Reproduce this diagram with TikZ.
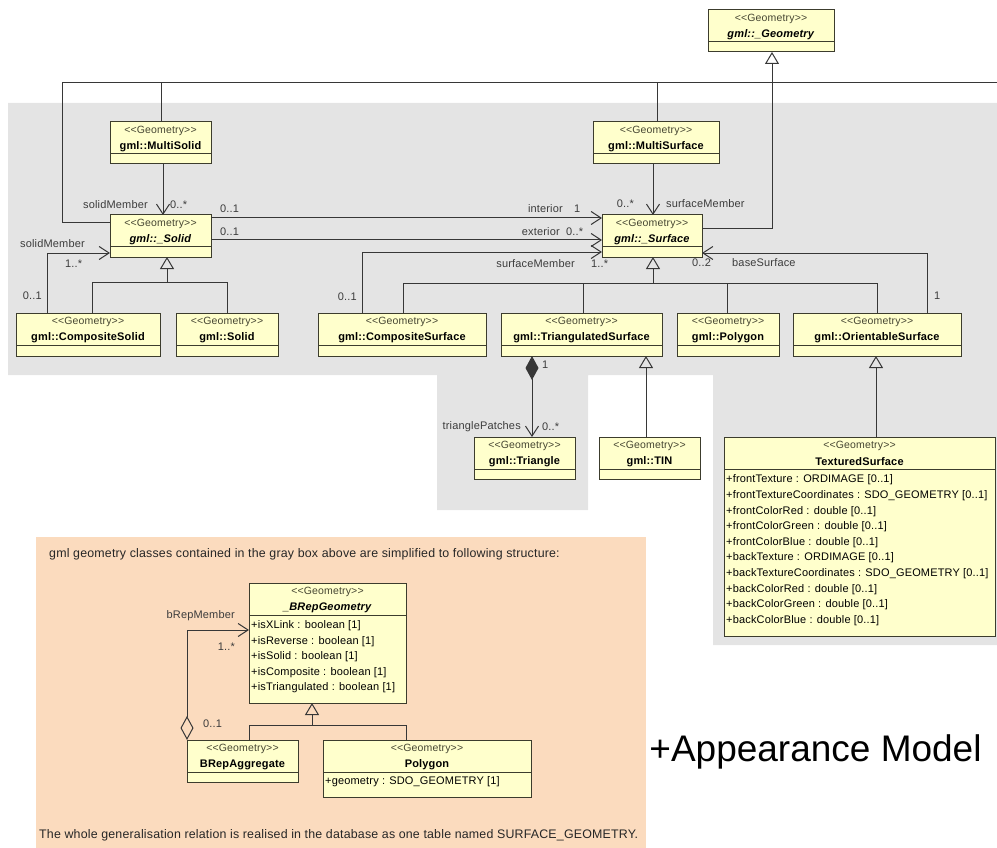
\documentclass[tikz,border=0pt]{standalone}
\usepackage{fontspec}
\setmainfont{Liberation Sans}
\newfontfamily\umlfont[LetterSpace=1.5]{Liberation Sans}
\usetikzlibrary{arrows.meta,fit}

\definecolor{graybg}{RGB}{228,228,228}
\definecolor{peachbg}{RGB}{251,219,190}
\definecolor{clsfill}{RGB}{255,255,204}
\definecolor{clsdraw}{RGB}{60,60,45}
\definecolor{lnk}{RGB}{55,55,55}
\definecolor{stereocol}{RGB}{70,70,50}
\definecolor{lblcol}{RGB}{60,60,60}

\tikzset{
  x=1pt, y=-1pt,
  clsbox/.style={draw=clsdraw, fill=clsfill, line width=1pt, inner sep=0pt, outer sep=0pt, rectangle},
  clssep/.style={draw=clsdraw, line width=1pt},
  stereo/.style={font=\umlfont\fontsize{10.5}{12}\selectfont, text=stereocol, inner sep=0pt},
  ctitle/.style={font=\umlfont\bfseries\fontsize{11}{12}\selectfont, inner sep=0pt},
  attr/.style={font=\umlfont\fontsize{11}{12}\selectfont, anchor=west, inner sep=0pt},
  lbl/.style={font=\umlfont\fontsize{11}{12}\selectfont, text=lblcol, inner sep=0pt},
  caption/.style={font=\umlfont\fontsize{12.4}{14}\selectfont, text=black!85, anchor=west, inner sep=0pt},
  conn/.style={draw=lnk, line width=1pt},
  assoc/.style={conn, -{Straight Barb[length=10pt,width=13pt]}},
  gen/.style={conn, -{Triangle[open,length=12pt,width=14pt]}},
  compo/.style={conn, {Diamond[length=24pt,width=13pt]}-{Straight Barb[length=10pt,width=13pt]}},
  aggr/.style={conn, {Diamond[open,length=24pt,width=13pt]}-{Straight Barb[length=10pt,width=13pt]}},
}

% UML class box: name, x1, y1, x2, y2, class name
\newcommand{\umlclass}[6]{%
  \node[clsbox, fit={(#2,#3) (#4,#5)}] (#1) {};
  \draw[clssep] (#2,#3+32) -- (#4,#3+32);
  \node[stereo] at ({(#2+#4)/2},#3+8.5) {<{}<Geometry>{}>};
  \node[ctitle] at ({(#2+#4)/2},#3+24.5) {#6};
}

\begin{document}
\begin{tikzpicture}
\useasboundingbox (0,0) rectangle (997,848);

% background panels
\fill[graybg] (8,103) -- (997,103) -- (997,645) -- (713,645) -- (713,375)
  -- (588,375) -- (588,510) -- (437,510) -- (437,375) -- (8,375) -- cycle;
\fill[peachbg] (36,537) rectangle (646,848);

% classes
\umlclass{geom}{708}{10}{834}{52}{\textit{gml::\_Geometry}}
\umlclass{msolid}{110}{122}{211}{164}{gml::MultiSolid}
\umlclass{solid}{110}{215}{211}{257}{\textit{gml::\_Solid}}
\umlclass{msurf}{593}{122}{719}{164}{gml::MultiSurface}
\umlclass{surf}{602}{215}{702}{257}{\textit{gml::\_Surface}}
\umlclass{csolid}{16}{313}{160}{356}{gml::CompositeSolid}
\umlclass{ssolid}{176}{313}{278}{356}{gml::Solid}
\umlclass{csurf}{318}{313}{486}{356}{gml::CompositeSurface}
\umlclass{trisurf}{501}{313}{662}{356}{gml::TriangulatedSurface}
\umlclass{poly}{677}{313}{779}{356}{gml::Polygon}
\umlclass{orient}{793}{313}{961}{356}{gml::OrientableSurface}
\umlclass{tri}{474}{437}{575}{479}{gml::Triangle}
\umlclass{tin}{599}{437}{700}{479}{gml::TIN}
\umlclass{texs}{724}{437}{995}{636}{TexturedSurface}
\umlclass{brep}{249}{583}{406}{703}{\textit{\_BRepGeometry}}
\umlclass{bagg}{187}{740}{298}{782}{BRepAggregate}
\umlclass{bpoly}{323}{740}{531}{797}{Polygon}

% attributes
\node[attr] at (726,480) {+frontTexture : ORDIMAGE [0..1]};
\node[attr] at (726,495.6) {+frontTextureCoordinates : SDO\_GEOMETRY [0..1]};
\node[attr] at (726,511.2) {+frontColorRed : double [0..1]};
\node[attr] at (726,526.8) {+frontColorGreen : double [0..1]};
\node[attr] at (726,542.4) {+frontColorBlue : double [0..1]};
\node[attr] at (726,558) {+backTexture : ORDIMAGE [0..1]};
\node[attr] at (726,573.6) {+backTextureCoordinates : SDO\_GEOMETRY [0..1]};
\node[attr] at (726,589.2) {+backColorRed : double [0..1]};
\node[attr] at (726,604.8) {+backColorGreen : double [0..1]};
\node[attr] at (726,620.4) {+backColorBlue : double [0..1]};

\node[attr] at (251,626) {+isXLink : boolean [1]};
\node[attr] at (251,641.5) {+isReverse : boolean [1]};
\node[attr] at (251,657) {+isSolid : boolean [1]};
\node[attr] at (251,672.5) {+isComposite : boolean [1]};
\node[attr] at (251,688) {+isTriangulated : boolean [1]};

\node[attr] at (325,782) {+geometry : SDO\_GEOMETRY [1]};

% generalisation towards gml::_Geometry, leaving the frame on the right
\coordinate (offright) at (997,83);
\draw[conn] (solid.west |- 0,223) -- (62,223) -- (62,83) -- (offright);
\draw[conn] (msolid.north -| 161,0) -- (161,83);
\draw[conn] (msurf.north -| 657,0) -- (657,83);

% solids
\draw[assoc] (msolid.south -| 163,0) -- (solid.north -| 163,0);
\node[lbl, anchor=east] at (148,205) {solidMember};
\node[lbl, anchor=west] at (170,205) {0..*};

\draw[assoc] (csolid.north -| 47,0) -- (47,253) -- (solid.west |- 0,253);
\node[lbl, anchor=west] at (20,244) {solidMember};
\node[lbl, anchor=west] at (65,264) {1..*};
\node[lbl, anchor=east] at (42,296) {0..1};

\draw[gen] (csolid.north -| 92,0) -- (92,282) -- (167,282) -- (solid.south -| 167,0);
\draw[conn] (ssolid.north -| 227,0) -- (227,282) -- (167,282);

% solid boundaries
\draw[assoc] (solid.east |- 0,218) -- (surf.west |- 0,218);
\node[lbl, anchor=west] at (220,209) {0..1};
\node[lbl, anchor=east] at (563,209) {interior};
\node[lbl, anchor=west] at (574,209) {1};

\draw[assoc] (solid.east |- 0,240) -- (surf.west |- 0,240);
\node[lbl, anchor=west] at (220,232) {0..1};
\node[lbl, anchor=east] at (560,232) {exterior};
\node[lbl, anchor=west] at (566,232) {0..*};

% surfaces
\draw[assoc] (msurf.south -| 653,0) -- (surf.north -| 653,0);
\node[lbl, anchor=east] at (634,204) {0..*};
\node[lbl, anchor=west] at (666,204) {surfaceMember};

\draw[assoc] (csurf.north -| 362,0) -- (362,252) -- (surf.west |- 0,252);
\node[lbl, anchor=east] at (575,264) {surfaceMember};
\node[lbl, anchor=west] at (591,264) {1..*};
\node[lbl, anchor=east] at (357,297) {0..1};

\draw[assoc] (orient.north -| 927,0) -- (927,253) -- (surf.east |- 0,253);
\node[lbl, anchor=west] at (692,263) {0..2};
\node[lbl, anchor=west] at (732,263) {baseSurface};
\node[lbl, anchor=west] at (934,296) {1};

\draw[gen] (surf.east |- 0,229) -- (772,229) -- (geom.south -| 772,0);

\draw[gen] (trisurf.north -| 583,0) -- (583,283) -- (653,283) -- (surf.south -| 653,0);
\draw[conn] (csurf.north -| 403,0) -- (403,283) -- (877,283) -- (orient.north -| 877,0);
\draw[conn] (poly.north -| 727,0) -- (727,283);

\draw[compo] (trisurf.south -| 532,0) -- (tri.north -| 532,0);
\node[lbl, anchor=west] at (542,365) {1};
\node[lbl, anchor=east] at (521,427) {trianglePatches};
\node[lbl, anchor=west] at (542,427) {0..*};

\draw[gen] (tin.north -| 646,0) -- (trisurf.south -| 646,0);
\draw[gen] (texs.north -| 876,0) -- (orient.south -| 876,0);

% simplified structure
\node[caption] (cap1) at (49,554) {gml geometry classes contained in the gray box above are simplified to following structure:};
\node[caption] (cap2) at (39,835) {The whole generalisation relation is realised in the database as one table named SURFACE\_GEOMETRY.};

\draw[aggr] (bagg.north -| 187,0) -- (187,630) -- (brep.west |- 0,630);
\node[lbl, anchor=east] at (235,616) {bRepMember};
\node[lbl, anchor=east] at (235,647) {1..*};
\node[lbl, anchor=west] at (203,724) {0..1};

\draw[gen] (bagg.north -| 249,0) -- (249,725) -- (312,725) -- (brep.south -| 312,0);
\draw[conn] (bpoly.north -| 406,0) -- (406,725) -- (312,725);

\node[font=\fontsize{37}{41}\selectfont, inner sep=0pt] (appmodel) at (815.5,752) {+Appearance Model};
\end{tikzpicture}
\end{document}
